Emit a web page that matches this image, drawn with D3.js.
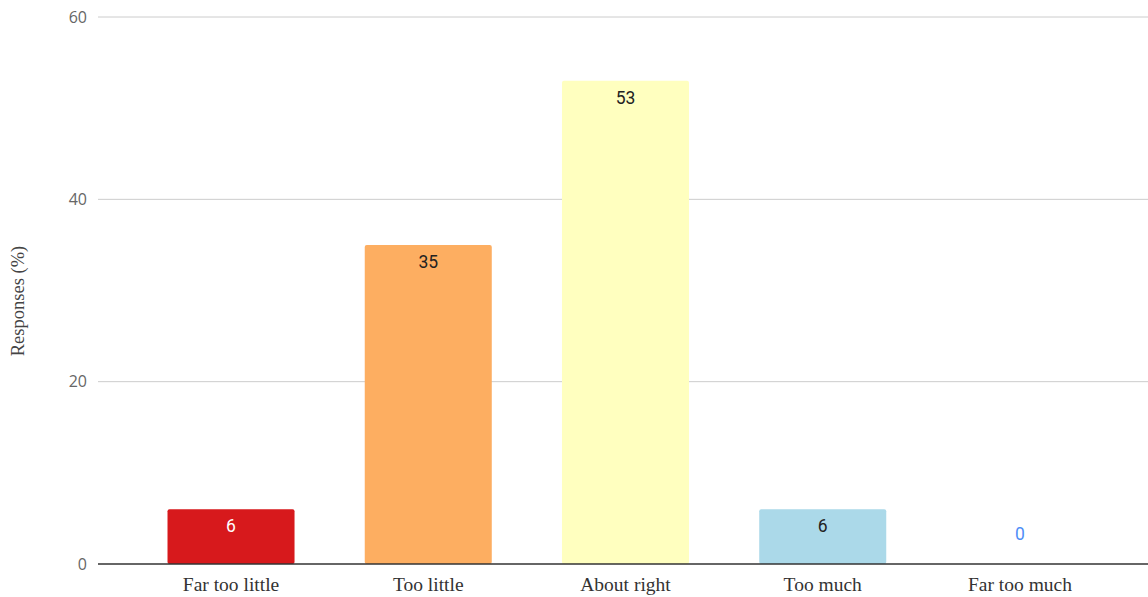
<!DOCTYPE html>
<html><head><meta charset="utf-8">
<script src="https://cdn.jsdelivr.net/npm/d3@7"></script>
<style>body{margin:0;background:#fff;}svg{display:block;}</style>
</head><body>
<script>
const categories = ["Far too little","Too little","About right","Too much","Far too much"];
const values = [6, 35, 53, 6, 0];
const colors = ["#d7191c","#fdae61","#ffffbf","#abd9e9","#2c7bb6"];
const labelColors = ["#ffffff","#222222","#222222","#222222","#4e8ef7"];
const yTicks = [0, 20, 40, 60];

const W = 1148, H = 597;
const svg = d3.select("body").append("svg").attr("width", W).attr("height", H);

const y = d3.scaleLinear().domain([0, 60]).range([564, 17]);
const x = d3.scaleBand().domain(categories).range([132.4, 1118.6]).paddingInner(0.356).paddingOuter(0.178);

// gridlines
svg.append("g").selectAll("line").data(yTicks.filter(d => d > 0)).join("line")
  .attr("x1", 98).attr("x2", W).attr("y1", d => y(d)).attr("y2", d => y(d))
  .attr("stroke", "#cccccc").attr("stroke-width", 1);

// y axis labels
const yAxis = d3.axisLeft(y).tickValues(yTicks).tickSize(0).tickPadding(0);
const ga = svg.append("g").attr("transform", "translate(87,0)").call(yAxis);
ga.select(".domain").remove();
ga.selectAll("text").attr("font-family", "'Open Sans', sans-serif").attr("font-size", 16).attr("fill", "#666");

// bars
svg.append("g").selectAll("rect").data(values).join("rect")
  .attr("x", (d, i) => x(categories[i]))
  .attr("width", x.bandwidth())
  .attr("y", d => y(d))
  .attr("height", d => y(0) - y(d))
  .attr("rx", 2).attr("ry", 2)
  .attr("fill", (d, i) => colors[i]);

// baseline
svg.append("line").attr("x1", 98).attr("x2", W).attr("y1", y(0)).attr("y2", y(0))
  .attr("stroke", "#333").attr("stroke-width", 1.5);

// value labels
svg.append("g").selectAll("text").data(values).join("text")
  .attr("x", (d, i) => x(categories[i]) + x.bandwidth() / 2)
  .attr("y", d => d > 0 ? y(d) + 23 : y(0) - 24)
  .attr("text-anchor", "middle")
  .attr("font-family", "Roboto, Arial, sans-serif")
  .attr("font-size", 17.5)
  .attr("fill", (d, i) => labelColors[i])
  .text(d => d);

// category axis labels
const xAxis = d3.axisBottom(x).tickSize(0).tickPadding(0);
const gx = svg.append("g").attr("transform", "translate(0,577)").call(xAxis);
gx.select(".domain").remove();
gx.selectAll("text").attr("font-family", "'Liberation Serif', 'DejaVu Serif', serif")
  .attr("font-size", 19.5).attr("fill", "#333");

// y title
svg.append("text")
  .attr("transform", "translate(24,301) rotate(-90)")
  .attr("text-anchor", "middle")
  .attr("font-family", "'Liberation Serif', serif")
  .attr("font-size", 18.5).attr("fill", "#444")
  .text("Responses (%)");
</script>
</body></html>
